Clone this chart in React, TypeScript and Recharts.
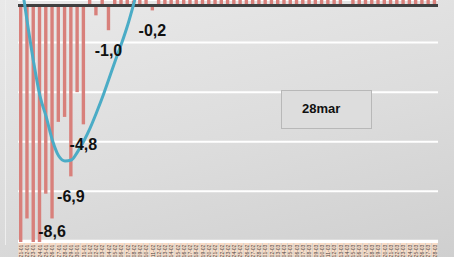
import React from "react";
import {
  ComposedChart,
  Bar,
  Line,
  XAxis,
  YAxis,
  CartesianGrid,
  ReferenceLine,
  LabelList,
} from "recharts";

// categories (day-month)
const DAYS = [
  "21-01", "22-01", "23-01", "24-01", "25-01", "26-01", "27-01", "28-01", "29-01", "30-01", "31-01",
  "01-02", "02-02", "03-02", "04-02", "05-02", "06-02", "07-02", "08-02", "09-02", "10-02",
  "11-02", "12-02", "13-02", "14-02", "15-02", "16-02", "17-02", "18-02", "19-02", "20-02",
  "21-02", "22-02", "23-02", "24-02", "25-02", "26-02", "27-02", "28-02",
  "01-03", "02-03", "03-03", "04-03", "05-03", "06-03", "07-03", "08-03", "09-03", "10-03",
  "11-03", "12-03", "13-03", "14-03", "15-03", "16-03", "17-03", "18-03", "19-03", "20-03",
  "21-03", "22-03", "23-03", "24-03", "25-03", "26-03", "27-03", "28-03",
];

// daily values (bars)
const DAILY = [
  -9.6, -8.6, -9.6, -9.6, -7.6, -8.6, -4.7, -4.5, -6.9, -3.5, -4.8,
  0.6, -0.4, 0.5, -1.0, 0.4, 0.3, 0.5, 0.2, 0.4, 0.3,
  -0.2, 0.6, 0.8, 0.7, 0.9, 0.6, 1.0, 0.8, 1.1, 0.9,
  1.2, 0.8, 1.0, 1.3, 1.1, 0.9, 1.2, 1.4,
  1.0, 1.3, 1.5, 1.2, 1.1, 1.6, 1.4, 1.2, 1.5, 1.3,
  1.7, 1.4, 1.2, 0.0, 1.6, 1.8, 1.5, 1.3, 1.9, 1.6,
  1.4, 1.8, 2.0, 1.7, 1.5, 1.9, 2.1, 1.8,
];

// polynomial trend (blue curve), only the visible stretch
const TREND = [
  0.99, -0.71, -2.3, -3.65, -4.5, -5.45, -6.08, -6.28, -6.24, -5.91,
  -5.47, -4.95, -4.34, -3.69, -2.97, -2.24, -1.55, -0.79, 0.1, 1.03,
];

// days that carry a data label
const LABELLED = ["26-01", "29-01", "31-01", "04-02", "11-02"];

const GRID_VALUES = [-1.5, -3.5, -5.5, -7.5, -9.5];
const Y_DOMAIN: [number, number] = [-9.55, 0.22];

const W = 454;
const H = 257;
const MARGIN = { top: 0, right: 16, bottom: 0, left: 18 };
const BAND = (W - MARGIN.left - MARGIN.right) / DAYS.length;

const data = DAYS.map((d, i) => ({
  day: d,
  daily: DAILY[i],
  trend: i < TREND.length ? TREND[i] : null,
}));

function DayTick(props: any) {
  const { x, y, payload } = props;
  return (
    <g>
      <rect x={x - BAND / 2 + 0.5} y={y + 1} width={BAND - 1} height={16} fill="#f9dcc6" />
      <text
        x={0}
        y={0}
        transform={`translate(${x + 1.8},${y + 9}) rotate(-90)`}
        textAnchor="middle"
        fontSize={5}
        fontFamily="Liberation Sans, Arial, sans-serif"
        fill="#444"
      >
        {payload.value}
      </text>
    </g>
  );
}

function OutsideLabel(props: any) {
  const vb = props.viewBox || props;
  const { x, y, width, height } = vb;
  const idx = props.index;
  if (idx == null || !LABELLED.includes(DAYS[idx])) return null;
  const bottom = Math.max(y, y + height);
  const v = Number(props.value);
  return (
    <text
      x={x + width / 2}
      y={Math.min(bottom + 26, 237)}
      textAnchor="middle"
      fontSize={16}
      fontWeight="bold"
      fontFamily="Liberation Sans, Arial, sans-serif"
      fill="#111"
    >
      {v.toFixed(1).replace(".", ",")}
    </text>
  );
}

export default function App() {
  return (
    <div
      style={{
        position: "absolute",
        left: 0,
        top: 0,
        width: W,
        height: H,
        overflow: "hidden",
        background: "linear-gradient(165deg, #e9e9e9 0%, #dcdcdc 55%, #cfcfcf 100%)",
      }}
    >
      <div style={{ position: "absolute", left: 5, top: 0, width: 1, height: 245, background: "#eeeeee" }} />
      <ComposedChart width={W} height={H} data={data} margin={MARGIN}>
        <CartesianGrid vertical={false} stroke="#ffffff" strokeWidth={2} />
        <XAxis
          dataKey="day"
          interval={0}
          axisLine={false}
          tickLine={false}
          tickSize={0}
          tickMargin={0}
          height={15}
          tick={<DayTick />}
        />
        <YAxis hide type="number" domain={Y_DOMAIN} ticks={GRID_VALUES} allowDataOverflow />
        <Bar dataKey="daily" fill="#d8807b" barSize={3.4} isAnimationActive={false}>
          <LabelList dataKey="daily" content={<OutsideLabel />} />
        </Bar>
        <ReferenceLine y={0} stroke="#404040" strokeWidth={3} />
        <Line
          dataKey="trend"
          type="monotone"
          stroke="#4bacc6"
          strokeWidth={3}
          dot={false}
          activeDot={false}
          isAnimationActive={false}
        />
      </ComposedChart>
      <div
        style={{
          position: "absolute",
          left: 281,
          top: 90,
          width: 91,
          height: 39,
          border: "1.5px solid #b8b8b8",
          background: "#dddddd",
          boxSizing: "border-box",
          fontFamily: "Liberation Sans, Arial, sans-serif",
          fontWeight: "bold",
          fontSize: 13,
          color: "#111",
          lineHeight: "36px",
          paddingLeft: 20,
        }}
      >
        28mar
      </div>
    </div>
  );
}
